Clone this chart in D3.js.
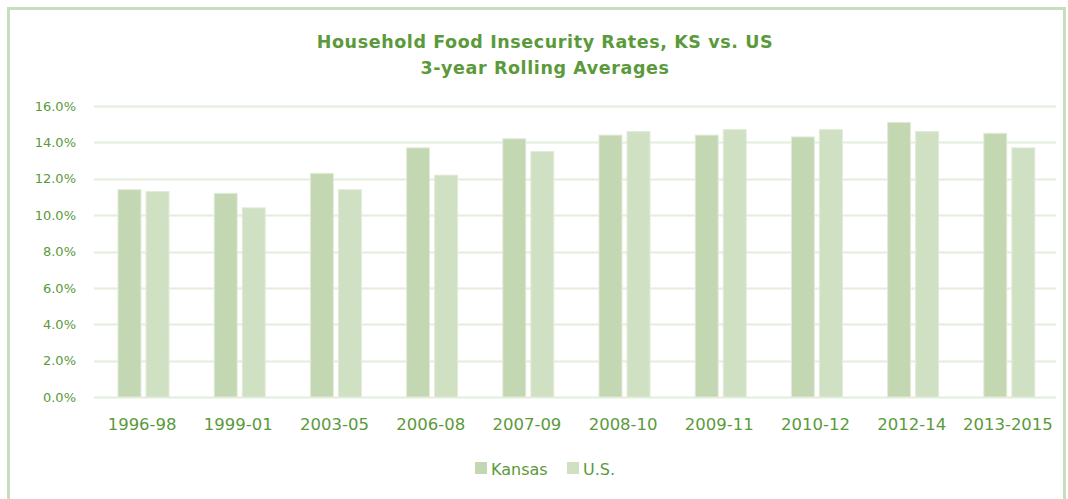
<!DOCTYPE html>
<html>
<head>
<meta charset="utf-8">
<script src="https://cdn.jsdelivr.net/npm/d3@7"></script>
<style>
  body { margin: 0; background: #fff; }
  text { font-family: "DejaVu Sans", Verdana, sans-serif; }
</style>
</head>
<body>
<script>
const width = 1068,
  height = 499;

// 3-year rolling averages, percent
const periods = ['1996-98', '1999-01', '2003-05', '2006-08', '2007-09', '2008-10', '2009-11', '2010-12', '2012-14', '2013-2015'];
const kansas = [11.4, 11.2, 12.3, 13.7, 14.2, 14.4, 14.4, 14.3, 15.1, 14.5];
const us = [11.3, 10.4, 11.4, 12.2, 13.5, 14.6, 14.7, 14.7, 14.6, 13.7];
const yTicks = [0, 2, 4, 6, 8, 10, 12, 14, 16];
const seriesNames = ['Kansas', 'U.S.'];
const colors = ['#c3d7b3', '#d0e0c3'];

const textColor = '#5a9a3a';

const margin = { top: 106, right: 12, bottom: 102, left: 94 };

const svg = d3
  .select('body')
  .append('svg')
  .attr('width', width)
  .attr('height', height);

// frame
svg.append('rect')
  .attr('x', 8.5).attr('y', 8.5)
  .attr('width', 1056).attr('height', 500)
  .attr('fill', 'none')
  .attr('stroke', '#c8ddbb')
  .attr('stroke-width', 3);

const x = d3.scaleBand()
  .domain(periods)
  .range([margin.left, width - margin.right]);

// two bars inside each category, ~23px wide with a 5px gap
const x1 = d3.scaleBand()
  .domain(seriesNames)
  .range([24, 75])
  .paddingInner(0.18);

const y = d3.scaleLinear()
  .domain([0, 16])
  .range([height - margin.bottom, margin.top]);

// gridlines
svg.append('g')
  .selectAll('line')
  .data(yTicks)
  .join('line')
  .attr('x1', margin.left)
  .attr('x2', width - margin.right)
  .attr('y1', d => Math.round(y(d)) + 0.5)
  .attr('y2', d => Math.round(y(d)) + 0.5)
  .attr('stroke', '#e4eedc')
  .attr('stroke-width', 2);

// y axis labels
const yAxis = d3.axisLeft(y).tickValues(yTicks).tickFormat(d => d.toFixed(1) + '%').tickSize(0).tickPadding(18);
svg.append('g')
  .attr('transform', `translate(${margin.left},0)`)
  .call(yAxis)
  .call(g => g.select('.domain').remove())
  .call(g => g.selectAll('text')
    .attr('fill', textColor)
    .style('font-size', '13px'));

// bars
const groups = svg.append('g')
  .selectAll('g')
  .data(periods.map((p, i) => ({ p, vals: [kansas[i], us[i]] })))
  .join('g')
  .attr('transform', d => `translate(${x(d.p)},0)`);

groups.selectAll('rect')
  .data(d => d.vals.map((v, j) => ({ name: seriesNames[j], v, j })))
  .join('rect')
  .attr('x', d => x1(d.name))
  .attr('width', x1.bandwidth())
  .attr('y', d => y(d.v))
  .attr('height', d => y(0) - y(d.v))
  .attr('fill', d => colors[d.j])
  .attr('stroke', '#e2ecda')
  .attr('stroke-width', 1);

// x axis labels
const xAxis = d3.axisBottom(x).tickSize(0).tickPadding(21);
svg.append('g')
  .attr('transform', `translate(0,${y(0)})`)
  .call(xAxis)
  .call(g => g.select('.domain').remove())
  .call(g => g.selectAll('text')
    .attr('fill', textColor)
    .style('font-size', '16.5px'));

// title
const title = svg.append('text')
  .attr('text-anchor', 'middle')
  .attr('fill', textColor)
  .style('font-size', '17.5px')
  .style('font-weight', 'bold')
  .style('letter-spacing', '0.6px');
title.append('tspan').attr('x', 545).attr('y', 48).text('Household Food Insecurity Rates, KS vs. US');
title.append('tspan').attr('x', 545).attr('y', 74).text('3-year Rolling Averages');

// legend
const legendX = [475, 567];
const legend = svg.append('g')
  .selectAll('g')
  .data(seriesNames)
  .join('g')
  .attr('transform', (d, i) => `translate(${legendX[i]},462)`);

legend.append('rect')
  .attr('width', 12).attr('height', 12)
  .attr('fill', (d, i) => colors[i]);

legend.append('text')
  .attr('x', 16).attr('y', 12.5)
  .attr('fill', textColor)
  .style('font-size', '16px')
  .text(d => d);
</script>
</body>
</html>
